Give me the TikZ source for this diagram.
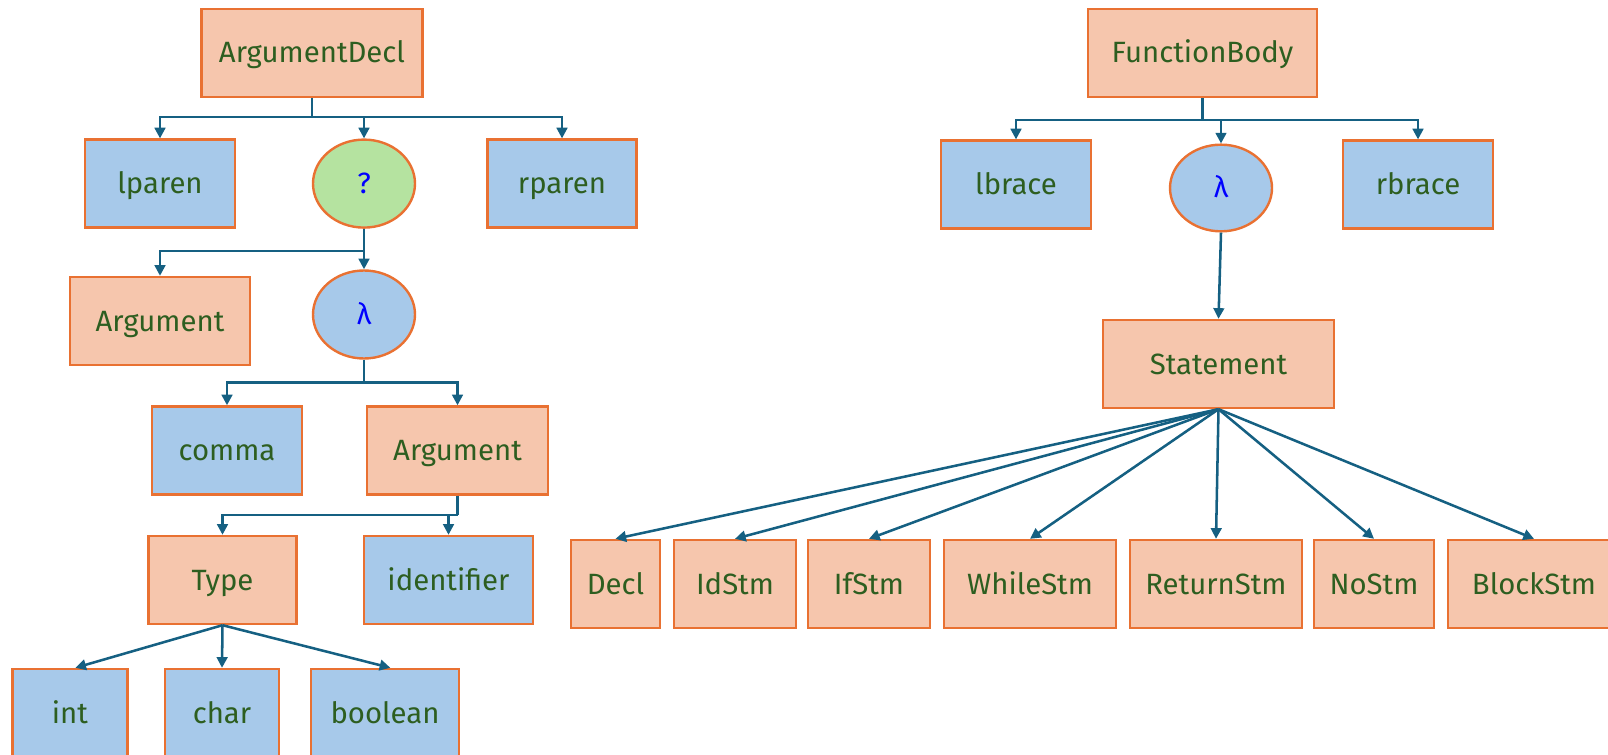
\documentclass[tikz,border=0pt]{standalone}
\usepackage{fontspec}
\setmainfont{Fira Sans}
\usetikzlibrary{arrows.meta,shapes.geometric}
\definecolor{peach}{HTML}{F6C6AD}
\definecolor{skyfill}{HTML}{A7C9EA}
\definecolor{mintfill}{HTML}{B5E3A0}
\definecolor{edgeorange}{HTML}{E97132}
\definecolor{linkteal}{HTML}{156082}
\definecolor{labelgreen}{HTML}{2D5E20}
\definecolor{symblue}{HTML}{0000FF}
\tikzset{
  nt/.style={rectangle, draw=edgeorange, line width=1.8pt, fill=peach,
    minimum height=66pt, inner sep=0pt, text=labelgreen,
    text height=15pt, text depth=0pt,
    font=\fontsize{22}{26}\selectfont},
  tok/.style={nt, fill=skyfill},
  opt/.style={ellipse, draw=edgeorange, line width=1.8pt, fill=mintfill,
    minimum width=76.5pt, minimum height=66pt, inner sep=0pt, text=symblue,
    text height=15pt, text depth=0pt,
    font=\fontsize{22}{26}\selectfont},
  rep/.style={opt, fill=skyfill},
  link/.style={draw=linkteal, line width=1.9pt,
    -{Triangle[length=8pt,width=8pt]}},
  bus/.style={draw=linkteal, line width=1.9pt}
}
\begin{document}
\begin{tikzpicture}[x=0.75pt,y=-0.75pt]
\useasboundingbox (0,0) rectangle (1608,755);

% ---- ArgumentDecl subtree ----
\node[nt,  minimum width=165.75pt] (ad)     at (312,53)     {ArgumentDecl};
\node[tok, minimum width=112.5pt]  (lparen) at (160,183.6)  {lparen};
\node[opt]                         (q)      at (364,183.6)  {?};
\node[tok, minimum width=111.75pt] (rparen) at (562,183.6)  {rparen};
\node[nt,  minimum width=135pt]    (argA)   at (160,321)    {Argument};
\node[rep]                         (lamA)   at (364,314.5)  {λ};
\node[tok, minimum width=112.5pt]  (comma)  at (227,450.5)  {comma};
\node[nt,  minimum width=135.75pt] (argB)   at (457.5,450.5){Argument};
\node[nt,  minimum width=111pt]    (type)   at (222.5,580)  {Type};
\node[tok, minimum width=126.75pt] (ident)  at (448.5,580)  {identifier};
\node[tok, minimum width=86.25pt]  (int)    at (70,713)     {int};
\node[tok, minimum width=85.5pt]   (char)   at (222,713)    {char};
\node[tok, minimum width=111pt]    (bool)   at (385,713)    {boolean};

\coordinate (busAD) at (312,117);
\coordinate (busQ)  at (364,251);
\coordinate (busL)  at (364,382.5);
\coordinate (busB)  at (457.5,515);

\draw[bus]  (ad.south) -- (busAD);
\draw[link] (busAD) -| (lparen.north);
\draw[link] (busAD) -| (q.north);
\draw[link] (busAD) -| (rparen.north);

\draw[link] (q.south) -- (lamA.north);
\draw[link] (busQ) -| (argA.north);

\draw[bus]  (lamA.south) -- (busL);
\draw[link] (busL) -| (comma.north);
\draw[link] (busL) -| (argB.north);

\draw[bus]  (argB.south) -- (busB);
\draw[link] (busB) -| (type.north);
\draw[link] (busB) -| (ident.north);

\draw[link] (type.south) -- ([xshift=4pt]int.north);
\draw[link] (type.south) -- (char.north);
\draw[link] (type.south) -- ([xshift=4pt]bool.north);

% ---- FunctionBody subtree ----
\node[nt,  minimum width=171.75pt] (fb)     at (1202.5,53)  {FunctionBody};
\node[tok, minimum width=112.5pt]  (lbrace) at (1016,184.6) {lbrace};
\node[rep, minimum height=65pt]    (lamB)   at (1221,188)   {λ};
\node[tok, minimum width=112.5pt]  (rbrace) at (1418,184.6) {rbrace};
\node[nt,  minimum width=173.25pt] (stmt)   at (1218.5,364) {Statement};

\node[nt, minimum width=66.75pt] (decl)   at (615.5,584) {Decl};
\node[nt, minimum width=91.5pt]  (idstm)  at (735,584)   {IdStm};
\node[nt, minimum width=91.5pt]  (ifstm)  at (869,584)   {IfStm};
\node[nt, minimum width=129pt]   (while)  at (1030,584)  {WhileStm};
\node[nt, minimum width=129pt]   (return) at (1216,584)  {ReturnStm};
\node[nt, minimum width=90pt]    (nostm)  at (1374,584)  {NoStm};
\node[nt, minimum width=129pt]   (block)  at (1534,584)  {BlockStm};

\coordinate (busFB) at (1202.5,120);
\draw[bus]  (fb.south) -- (busFB);
\draw[link] (busFB) -| (lbrace.north);
\draw[link] (busFB) -| (lamB.north);
\draw[link] (busFB) -| (rbrace.north);
\draw[link] (lamB.south) -- (stmt.north);

\foreach \kid in {decl,idstm,ifstm,while,return,nostm,block}
  \draw[link] (stmt.south) -- (\kid.north);
\end{tikzpicture}
\end{document}
